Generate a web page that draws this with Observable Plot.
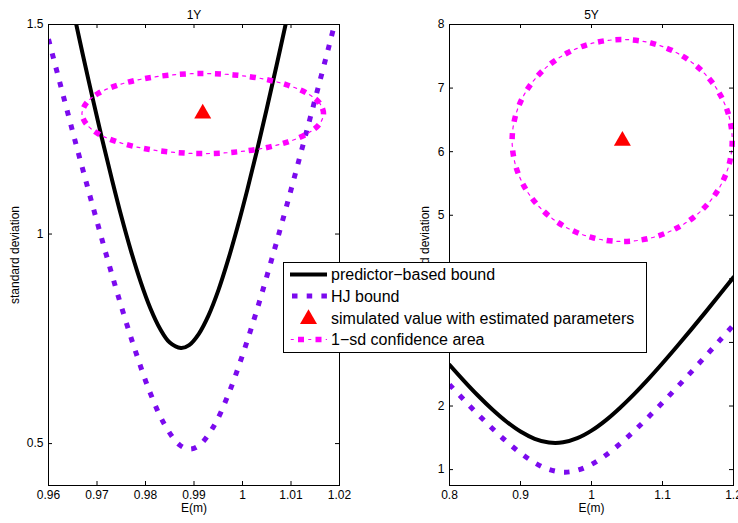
<!DOCTYPE html>
<html>
<head>
<meta charset="utf-8">
<script src="https://cdn.jsdelivr.net/npm/d3@7"></script>
<script src="https://cdn.jsdelivr.net/npm/@observablehq/plot@0.6"></script>
<style>
  html, body { margin: 0; padding: 0; background: #fff; overflow: hidden; }
  #chart { position: relative; width: 738px; height: 523px; font-family: "Liberation Sans", Arial, sans-serif; }
  #chart > svg.panel { position: absolute; top: 0; }
  #chart > svg#legend { position: absolute; left: 283px; top: 262px; }
</style>
</head>
<body>
<div id="chart"></div>
<script>
// ---- 1Y horizon ----
const predictor1Y = [
  [0.9655, 1.512], [0.967, 1.432], [0.969, 1.329], [0.971, 1.229], [0.973, 1.134],
  [0.975, 1.043], [0.977, 0.960], [0.979, 0.886], [0.981, 0.823], [0.983, 0.774],
  [0.985, 0.741], [0.9873, 0.728], [0.989, 0.735], [0.991, 0.762], [0.993, 0.806],
  [0.995, 0.865], [0.997, 0.937], [0.999, 1.018], [1.001, 1.106], [1.003, 1.200],
  [1.005, 1.299], [1.007, 1.401], [1.009, 1.506]
];
const hj1Y = [
  [0.960, 1.465], [0.963, 1.332], [0.966, 1.200], [0.969, 1.072], [0.972, 0.947],
  [0.975, 0.828], [0.978, 0.718], [0.981, 0.620], [0.984, 0.544], [0.987, 0.497],
  [0.9891, 0.487], [0.991, 0.495], [0.994, 0.540], [0.997, 0.615], [1.000, 0.711],
  [1.003, 0.820], [1.006, 0.939], [1.009, 1.063], [1.012, 1.192], [1.015, 1.323],
  [1.018, 1.456], [1.0193, 1.515]
];
const simulated1Y = [[0.9918, 1.2875]];
const confidence1Y = [
  [1.0167, 1.2875], [1.0159, 1.3122], [1.0134, 1.3353], [1.0094, 1.3550], [1.0043, 1.3702],
  [0.9982, 1.3797], [0.9918, 1.3830], [0.9854, 1.3797], [0.9794, 1.3702], [0.9742, 1.3550],
  [0.9702, 1.3353], [0.9678, 1.3122], [0.9669, 1.2875], [0.9678, 1.2628], [0.9702, 1.2398],
  [0.9742, 1.2200], [0.9794, 1.2048], [0.9854, 1.1953], [0.9918, 1.1920], [0.9982, 1.1953],
  [1.0043, 1.2048], [1.0094, 1.2200], [1.0134, 1.2398], [1.0159, 1.2628]
];
const xTicks1Y = [0.96, 0.97, 0.98, 0.99, 1, 1.01, 1.02];
const xLabels1Y = ["0.96", "0.97", "0.98", "0.99", "1", "1.01", "1.02"];
const yTicks1Y = [0.5, 1, 1.5];
const yLabels1Y = ["0.5", "1", "1.5"];

// ---- 5Y horizon ----
const predictor5Y = [
  [0.80, 2.648], [0.82, 2.400], [0.84, 2.165], [0.86, 1.949], [0.88, 1.757],
  [0.90, 1.599], [0.92, 1.485], [0.94, 1.426], [0.96, 1.429], [0.98, 1.494],
  [1.00, 1.613], [1.02, 1.775], [1.04, 1.970], [1.06, 2.188], [1.08, 2.424],
  [1.10, 2.673], [1.12, 2.932], [1.14, 3.198], [1.16, 3.469], [1.18, 3.745], [1.20, 4.024]
];
const hj5Y = [
  [0.80, 2.337], [0.82, 2.100], [0.84, 1.870], [0.86, 1.650], [0.88, 1.444],
  [0.90, 1.260], [0.92, 1.108], [0.94, 1.003], [0.962, 0.960], [0.98, 0.989],
  [1.00, 1.082], [1.02, 1.226], [1.04, 1.405], [1.06, 1.607], [1.08, 1.825],
  [1.10, 2.053], [1.12, 2.289], [1.14, 2.530], [1.16, 2.776], [1.18, 3.024], [1.20, 3.274]
];
const simulated5Y = [[1.0435, 6.17]];
const confidence5Y = [
  [1.1982, 6.176], [1.1929, 6.587], [1.1774, 6.970], [1.1528, 7.299], [1.1207, 7.551],
  [1.0833, 7.710], [1.0432, 7.764], [1.0031, 7.710], [0.9657, 7.551], [0.9336, 7.299],
  [0.9090, 6.970], [0.8935, 6.587], [0.8882, 6.176], [0.8935, 5.765], [0.9090, 5.382],
  [0.9336, 5.053], [0.9657, 4.801], [1.0031, 4.642], [1.0432, 4.588], [1.0833, 4.642],
  [1.1207, 4.801], [1.1528, 5.053], [1.1774, 5.382], [1.1929, 5.765]
];
const xTicks5Y = [0.8, 0.9, 1, 1.1, 1.2];
const xLabels5Y = ["0.8", "0.9", "1", "1.1", "1.2"];
const yTicks5Y = [1, 2, 3, 4, 5, 6, 7, 8];
const yLabels5Y = ["1", "2", "3", "4", "5", "6", "7", "8"];

// ---- shared text ----
const xAxisTitle = "E(m)";
const yAxisTitle = "standard deviation";
const seriesNames = [
  "predictor\u2212based bound",
  "HJ bound",
  "simulated value with estimated parameters",
  "1\u2212sd confidence area"
];

const FONT = "'Liberation Sans', Arial, sans-serif";
const BLACK = "#000000";
const PURPLE = "#7b0aee";
const MAGENTA = "#ff00ff";
const RED = "#ff0000";
const HEIGHT = 523, M_TOP = 24, M_BOTTOM = 38, TICK = 4;

const px = (d) => d[0];
const py = (d) => d[1];

// dash-dot look: heavy square dashes with a thin tick centred in each gap
function confidenceMarks(data) {
  return [
    Plot.line(data, {x: px, y: py, curve: "catmull-rom-closed", stroke: MAGENTA,
      strokeWidth: 5.5, strokeDasharray: "6,11.5", strokeLinecap: "butt"}),
    Plot.line(data, {x: px, y: py, curve: "catmull-rom-closed", stroke: MAGENTA,
      strokeWidth: 1.2, strokeDasharray: "3,14.5", strokeDashoffset: 7.25})
  ];
}

function panel(o) {
  const innerW = o.width - o.marginLeft - o.marginRight;
  const innerH = HEIGHT - M_TOP - M_BOTTOM;
  const svg = Plot.plot({
    width: o.width,
    height: HEIGHT,
    marginTop: M_TOP,
    marginBottom: M_BOTTOM,
    marginLeft: o.marginLeft,
    marginRight: o.marginRight,
    style: {fontFamily: FONT, fontSize: "12px", color: "#000", background: "transparent", overflow: "hidden"},
    x: {domain: o.xDomain},
    y: {domain: o.yDomain},
    marks: [
      Plot.line(o.predictor, {x: px, y: py, curve: "catmull-rom", stroke: BLACK, strokeWidth: 4, clip: true}),
      Plot.line(o.hj, {x: px, y: py, curve: "catmull-rom", stroke: PURPLE, strokeWidth: 5,
        strokeDasharray: "5.5,9.2", strokeLinecap: "butt", clip: true}),
      Plot.dot(o.simulated, {x: px, y: py, symbol: "triangle", r: 6.3, fill: RED, stroke: "none"}),
      ...confidenceMarks(o.confidence),
      Plot.frame({stroke: BLACK, strokeWidth: 1}),
      // inward ticks on all four sides
      Plot.tickX(o.xTicks, {x: (d) => d, stroke: BLACK, insetTop: innerH - TICK}),
      Plot.tickX(o.xTicks, {x: (d) => d, stroke: BLACK, insetBottom: innerH - TICK}),
      Plot.tickY(o.yTicks, {y: (d) => d, stroke: BLACK, insetRight: innerW - TICK}),
      Plot.tickY(o.yTicks, {y: (d) => d, stroke: BLACK, insetLeft: innerW - TICK}),
      Plot.axisX(o.xTicks, {tickSize: 0, tickPadding: 5, fontSize: 12, label: null,
        tickFormat: (d) => o.xLabels[o.xTicks.indexOf(d)]}),
      Plot.axisY(o.yTicks, {tickSize: 0, tickPadding: 5, fontSize: 12, label: null,
        tickFormat: (d) => o.yLabels[o.yTicks.indexOf(d)]}),
      Plot.text([o.title], {text: (d) => d, frameAnchor: "top", dy: -14, fontSize: 12, fill: BLACK}),
      Plot.text([xAxisTitle], {text: (d) => d, frameAnchor: "bottom", dy: 26, fontSize: 12, fill: BLACK}),
      Plot.text([yAxisTitle], {text: (d) => d, frameAnchor: "left", dx: -o.yTitleGap, rotate: -90,
        textAnchor: "middle", fontSize: 12, fill: BLACK})
    ]
  });
  svg.classList.add("panel");
  svg.style.left = o.left + "px";
  return svg;
}

const chart = document.getElementById("chart");

chart.appendChild(panel({
  title: "1Y", left: 0, width: 370, marginLeft: 48, marginRight: 31, yTitleGap: 33,
  xDomain: [0.96, 1.02], yDomain: [0.4, 1.5],
  xTicks: xTicks1Y, xLabels: xLabels1Y, yTicks: yTicks1Y, yLabels: yLabels1Y,
  predictor: predictor1Y, hj: hj1Y, simulated: simulated1Y, confidence: confidence1Y
}));

chart.appendChild(panel({
  title: "5Y", left: 370, width: 368, marginLeft: 79, marginRight: 5, yTitleGap: 24,
  xDomain: [0.8, 1.2], yDomain: [0.75, 8],
  xTicks: xTicks5Y, xLabels: xLabels5Y, yTicks: yTicks5Y, yLabels: yLabels5Y,
  predictor: predictor5Y, hj: hj5Y, simulated: simulated5Y, confidence: confidence5Y
}));

// ---- legend box laid over both panels ----
const LW = 364, LH = 91, rowY = [12.5, 34, 56, 77.5], sx0 = 7, sx1 = 44, textX = 48;
const legend = d3.select(chart).append("svg")
  .attr("id", "legend").attr("width", LW).attr("height", LH)
  .style("font-family", FONT);
legend.append("rect").attr("x", 0.5).attr("y", 0.5).attr("width", LW - 1).attr("height", LH - 1)
  .attr("fill", "#fff").attr("stroke", BLACK).attr("stroke-width", 1);
legend.append("line").attr("x1", sx0).attr("x2", sx1).attr("y1", rowY[0]).attr("y2", rowY[0])
  .attr("stroke", BLACK).attr("stroke-width", 4);
legend.append("line").attr("x1", sx0 + 2).attr("x2", sx1).attr("y1", rowY[1]).attr("y2", rowY[1])
  .attr("stroke", PURPLE).attr("stroke-width", 5).attr("stroke-dasharray", "5.5,9.2");
legend.append("path").attr("d", d3.symbol(d3.symbolTriangle, 125)())
  .attr("transform", `translate(${(sx0 + sx1) / 2},${rowY[2] + 1})`).attr("fill", RED);
legend.append("line").attr("x1", sx0).attr("x2", sx1).attr("y1", rowY[3]).attr("y2", rowY[3])
  .attr("stroke", MAGENTA).attr("stroke-width", 5.5).attr("stroke-dasharray", "6,11.5").attr("stroke-dashoffset", 9.5);
legend.append("line").attr("x1", sx0).attr("x2", sx1).attr("y1", rowY[3]).attr("y2", rowY[3])
  .attr("stroke", MAGENTA).attr("stroke-width", 1.2).attr("stroke-dasharray", "3,14.5").attr("stroke-dashoffset", 16.75);
legend.selectAll("text.entry").data(seriesNames).join("text")
  .attr("class", "entry")
  .attr("x", textX).attr("y", (d, i) => rowY[i]).attr("dy", "0.35em")
  .attr("font-size", 16).attr("fill", BLACK)
  .text((d) => d);
</script>
</body>
</html>
